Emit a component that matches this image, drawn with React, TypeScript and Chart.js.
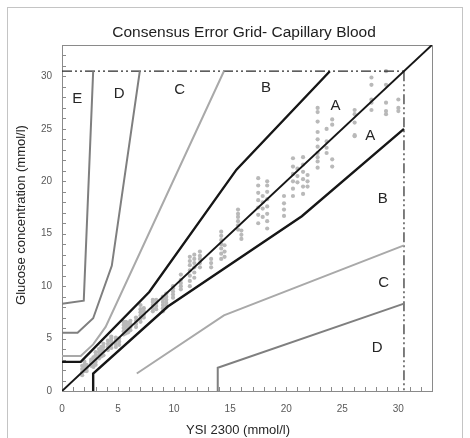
import { useEffect, useRef } from "react";
import { Chart, registerables } from "chart.js";

Chart.register(...registerables);

// ---- text ----
const titleText = "Consensus Error Grid- Capillary Blood";
const xAxisTitle = "YSI 2300 (mmol/l)";
const yAxisTitle = "Glucose concentration (mmol/l)";

// ---- axes ----
const xTickValues = [0, 5, 10, 15, 20, 25, 30];
const yTickValues = [0, 5, 10, 15, 20, 25, 30];
const axisMin = 0;
const axisMax = 33;
const minorStep = 1;

// ---- zone boundaries (mmol/l) ----
const zoneAUpper = [[0, 2.78], [1.67, 2.78], [7.78, 9.44], [15.56, 21.11], [23.89, 30.5]];
const zoneALower = [[2.78, 0], [2.78, 1.67], [9.44, 8.06], [21.39, 16.67], [30.5, 25.0]];
const zoneBUpper = [[0, 3.33], [1.67, 3.33], [2.78, 4.44], [3.89, 6.11], [14.44, 30.5]];
const zoneBLower = [[6.67, 1.67], [14.44, 7.22], [30.5, 13.89]];
const zoneCUpper = [[0, 5.56], [1.39, 5.56], [2.78, 6.94], [4.44, 11.94], [6.94, 30.5]];
const zoneCLower = [[13.89, 0], [13.89, 2.22], [30.5, 8.33]];
const zoneDUpper = [[0, 8.33], [1.94, 8.61], [2.78, 30.5]];
const identityLine = [[0, 0], [33, 33]];
const limitTop = [[0, 30.5], [30.5, 30.5]];
const limitRight = [[30.5, 30.5], [30.5, 0]];

// ---- zone labels ----
const zoneLabelText = ["E", "D", "C", "B", "A", "A", "B", "C", "D"];
const zoneLabelX = [1.35, 5.1, 10.5, 18.2, 24.4, 27.5, 28.6, 28.7, 28.1];
const zoneLabelY = [27.9, 28.3, 28.7, 28.9, 27.2, 24.3, 18.3, 10.3, 4.1];

// ---- measurements: reference (YSI) values and meter readings ----
const referenceValues = [
  1.8, 2.0, 2.2, 2.6, 2.8, 3.0, 3.3, 3.5, 3.7, 4.1, 4.4, 4.8, 5.1, 5.5, 5.7, 5.9, 6.1,
  6.6, 7.0, 7.3, 8.1, 8.4, 9.0, 9.3, 9.9, 10.6, 11.4, 11.8, 12.3, 13.3, 14.2, 14.5,
  15.7, 16.0, 17.5, 17.9, 18.3, 19.8, 20.6, 21.0, 21.5, 21.9, 22.8, 23.6, 24.1, 26.1,
  27.6, 28.9, 30.0,
];
const meterReadings = [
  [1.5, 1.8, 2.1, 2.4],
  [1.9, 2.2, 2.5, 2.8],
  [1.9, 2.2, 2.5],
  [2.4, 2.6, 2.8, 3.0],
  [2.3, 2.6, 2.9, 3.2],
  [2.5, 2.8, 3.1, 3.4, 3.7],
  [3.1, 3.4, 3.7, 4.0],
  [3.3, 3.6, 3.9, 4.2],
  [3.4, 3.8, 4.2, 4.5],
  [3.9, 4.2, 4.5, 4.8],
  [4.1, 4.4, 4.7, 5.0, 5.2],
  [4.2, 4.5, 4.8, 5.1],
  [4.4, 4.7, 5.0],
  [5.4, 5.7, 6.0, 6.3, 6.6],
  [5.5, 5.8, 6.1, 6.4, 6.6],
  [5.6, 5.9, 6.2, 6.5],
  [5.8, 6.1, 6.4, 6.7],
  [6.1, 6.4, 6.7, 7.0],
  [6.6, 6.9, 7.2, 7.5, 7.8, 8.2],
  [7.0, 7.3, 7.6, 7.9],
  [7.6, 7.9, 8.2, 8.5, 8.7],
  [7.8, 8.1, 8.4, 8.7],
  [7.6, 7.9, 8.2, 8.5, 8.8, 9.0],
  [8.1, 8.4, 8.7, 9.0, 9.3],
  [8.9, 9.2, 9.5, 9.8, 10.0],
  [9.7, 10.0, 10.3, 10.6, 11.1],
  [10.0, 10.5, 11.0, 11.5, 12.0, 12.4, 12.8],
  [10.8, 11.3, 11.8, 12.2, 12.6, 13.0],
  [11.8, 12.2, 12.6, 12.9, 13.3],
  [11.8, 12.2, 12.6],
  [12.6, 13.1, 13.6, 14.0, 14.4, 14.8, 15.2],
  [12.8, 13.3, 13.9],
  [15.4, 15.8, 16.2, 16.6, 16.9, 17.3],
  [14.5, 14.9, 15.3],
  [16.0, 16.8, 17.5, 18.2, 18.9, 19.6, 20.3],
  [16.6, 17.4, 18.0, 18.6],
  [15.5, 16.2, 16.9, 17.6, 18.3, 19.0, 19.6, 20.0],
  [16.7, 17.3, 17.9, 18.6],
  [18.6, 19.3, 20.0, 20.7, 21.4, 22.2],
  [19.9, 20.5, 21.2],
  [18.8, 19.5, 20.2, 20.9, 21.6, 22.3],
  [19.5, 20.0, 20.6],
  [21.3, 21.9, 22.3, 22.7, 23.3, 24.0, 24.7, 25.7, 26.6, 27.0],
  [22.7, 23.2, 23.8, 25.0],
  [21.4, 22.1, 25.4, 25.9],
  [24.3, 24.4, 25.6, 26.4, 26.8],
  [26.8, 27.5, 27.8, 29.2, 29.9],
  [26.4, 26.7, 27.5, 29.2, 30.5],
  [26.7, 27.0, 27.8],
];

const FONT = "'Liberation Sans', Arial, sans-serif";

const toPts = (arr: number[][]) => arr.map(([x, y]) => ({ x, y }));

const overlayPlugin = {
  id: "overlay",
  beforeDatasetsDraw(chart: any) {
    const { ctx, chartArea: a, scales } = chart;
    const xs = scales.x;
    const ys = scales.y;
    ctx.save();
    ctx.strokeStyle = "#8a8a8a";
    ctx.lineWidth = 1;
    ctx.strokeRect(Math.round(a.left) + 0.5, Math.round(a.top) + 0.5, Math.round(a.right - a.left), Math.round(a.bottom - a.top));
    ctx.beginPath();
    for (let v = axisMin; v <= axisMax; v += minorStep) {
      const px = Math.round(xs.getPixelForValue(v)) + 0.5;
      ctx.moveTo(px, a.bottom);
      ctx.lineTo(px, a.bottom - 4);
      const py = Math.round(ys.getPixelForValue(v)) + 0.5;
      ctx.moveTo(a.left, py);
      ctx.lineTo(a.left + 4, py);
    }
    ctx.stroke();
    ctx.restore();
  },
  afterDraw(chart: any) {
    const { ctx, chartArea: a, scales } = chart;
    const xs = scales.x;
    const ys = scales.y;
    ctx.save();
    ctx.fillStyle = "#262626";
    ctx.textAlign = "center";
    ctx.textBaseline = "middle";
    ctx.font = `15px ${FONT}`;
    zoneLabelText.forEach((t, i) => {
      ctx.fillText(t, xs.getPixelForValue(zoneLabelX[i]), ys.getPixelForValue(zoneLabelY[i]));
    });
    // title
    ctx.fillStyle = "#1e1e1e";
    ctx.textBaseline = "alphabetic";
    ctx.font = `15.5px ${FONT}`;
    ctx.fillText(titleText, 244, 36.5);
    // x axis title
    ctx.font = `13px ${FONT}`;
    ctx.fillStyle = "#262626";
    ctx.fillText(xAxisTitle, 238, 434);
    // y axis title
    ctx.translate(21.5, 215);
    ctx.rotate(-Math.PI / 2);
    ctx.textBaseline = "middle";
    ctx.fillText(yAxisTitle, 0, 0);
    ctx.restore();
  },
};

export default function App() {
  const ref = useRef<HTMLCanvasElement | null>(null);
  useEffect(() => {
    if (!ref.current) return;
    const scatterPts: { x: number; y: number }[] = [];
    referenceValues.forEach((rx, i) => {
      meterReadings[i].forEach((my) => scatterPts.push({ x: rx, y: my }));
    });
    const lineDs = (data: number[][], color: string, width: number, order: number, dash: number[] = []) => ({
      type: "scatter" as const,
      data: toPts(data),
      showLine: true,
      borderColor: color,
      backgroundColor: color,
      borderWidth: width,
      borderDash: dash,
      pointRadius: 0,
      pointHoverRadius: 0,
      fill: false,
      tension: 0,
      order,
    });
    const lightGrey = "#a9a9a9";
    const midGrey = "#7f7f7f";
    const black = "#161616";
    const chart = new Chart(ref.current, {
      type: "scatter",
      data: {
        datasets: [
          lineDs(zoneAUpper, black, 2.4, 1),
          lineDs(zoneALower, black, 2.4, 1),
          lineDs(identityLine, black, 2, 1),
          lineDs(zoneBUpper, lightGrey, 2, 2),
          lineDs(zoneBLower, lightGrey, 2, 2),
          lineDs(zoneCUpper, midGrey, 2, 2),
          lineDs(zoneCLower, midGrey, 2, 2),
          lineDs(zoneDUpper, midGrey, 2, 2),
          lineDs(limitTop, "#2a2a2a", 1.2, 3, [10, 3, 2, 3, 2, 3]),
          lineDs(limitRight, "#2a2a2a", 1.2, 3, [10, 3, 2, 3, 2, 3]),
          {
            type: "scatter" as const,
            data: scatterPts,
            pointRadius: 2.1,
            pointBorderWidth: 0,
            backgroundColor: "#b9b9b9",
            borderColor: "#b9b9b9",
            order: 10,
          } as any,
        ],
      },
      options: {
        responsive: false,
        animation: false,
        devicePixelRatio: 1,
        layout: { padding: { top: 45, right: 38, left: 0, bottom: 0 } },
        plugins: { legend: { display: false }, title: { display: false }, tooltip: { enabled: false } },
        events: [],
        scales: {
          x: {
            type: "linear",
            min: axisMin,
            max: axisMax,
            grid: { display: false, drawTicks: false },
            border: { display: false },
            afterBuildTicks: (s: any) => {
              s.ticks = xTickValues.map((v) => ({ value: v }));
            },
            afterFit: (s: any) => {
              s.height = 47;
            },
            ticks: { color: "#595959", font: { family: FONT, size: 10 }, padding: 12, maxRotation: 0 },
          },
          y: {
            type: "linear",
            min: axisMin,
            max: axisMax,
            grid: { display: false, drawTicks: false },
            border: { display: false },
            afterBuildTicks: (s: any) => {
              s.ticks = yTickValues.map((v) => ({ value: v }));
            },
            afterFit: (s: any) => {
              s.width = 62;
            },
            ticks: { color: "#595959", font: { family: FONT, size: 10 }, padding: 10 },
          },
        },
      } as any,
      plugins: [overlayPlugin],
    });
    return () => chart.destroy();
  }, []);
  return (
    <div style={{ position: "fixed", left: 0, top: 0, width: 470, height: 438, overflow: "hidden", background: "#fff" }}>
      <div
        style={{
          position: "absolute",
          left: 7,
          top: 7,
          width: 456,
          height: 460,
          border: "1px solid #c4c4c4",
          boxSizing: "border-box",
        }}
      />
      <canvas ref={ref} width={470} height={438} style={{ position: "absolute", left: 0, top: 0, width: 470, height: 438 }} />
    </div>
  );
}
